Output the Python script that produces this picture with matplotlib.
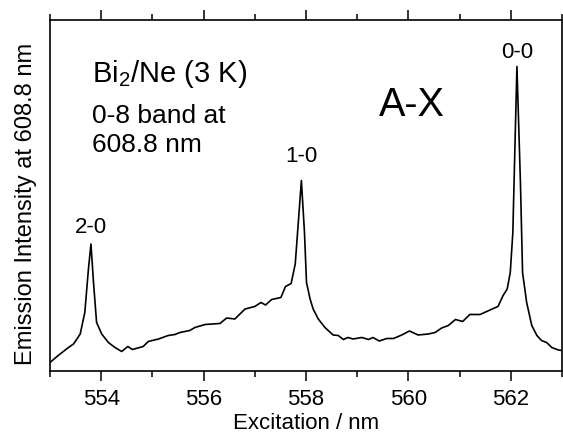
import matplotlib
matplotlib.use('Agg')
import matplotlib.pyplot as plt
from matplotlib.ticker import MultipleLocator

plt.rcParams['font.family'] = ['Liberation Sans', 'DejaVu Sans']
plt.rcParams['mathtext.fontset'] = 'custom'
plt.rcParams['mathtext.rm'] = 'Liberation Sans'
plt.rcParams['mathtext.default'] = 'regular'

# excitation spectrum (intensity in arbitrary units)
wavelength = [553.00, 553.16, 553.36, 553.46, 553.59, 553.68, 553.75, 553.80, 553.85, 553.91,
              554.01, 554.14, 554.27, 554.40, 554.52, 554.61, 554.82, 554.92, 555.12, 555.31,
              555.44, 555.54, 555.73, 555.83, 556.03, 556.32, 556.45, 556.61, 556.81, 557.00,
              557.12, 557.21, 557.33, 557.51, 557.60, 557.71, 557.79, 557.86, 557.91, 557.97,
              558.01, 558.08, 558.14, 558.24, 558.37, 558.53, 558.63, 558.73, 558.82, 558.92,
              559.09, 559.22, 559.31, 559.43, 559.58, 559.71, 559.87, 560.02, 560.19, 560.39,
              560.52, 560.65, 560.78, 560.92, 561.06, 561.20, 561.40, 561.53, 561.66, 561.75,
              561.85, 561.93, 561.99, 562.04, 562.07, 562.12, 562.19, 562.23, 562.31, 562.41,
              562.51, 562.60, 562.70, 562.80, 562.93, 563.00]
intensity = [9, 16, 24, 27.5, 37.5, 59, 102, 127.5, 89, 49,
             37.5, 29, 24, 20, 25, 22, 25, 30, 32.5, 36,
             37, 39, 41, 44, 47, 48, 53.5, 52.5, 62.5, 65,
             69, 66.5, 72, 74, 85, 88, 107.5, 156, 191, 139.5,
             89, 72.5, 62.5, 52.5, 44, 36.5, 36, 32, 34, 32.5,
             34, 32, 34, 30.5, 33, 33, 36.5, 40.5, 36.5, 37.5,
             39, 43.5, 46, 52, 50, 57, 57, 60, 63, 65,
             76, 82.5, 99, 139, 202, 305, 186, 99, 69, 46,
             36, 31, 29, 24, 21.5, 21]

# band labels: (label, wavelength window of the peak, offset above peak in points)
bands = ['2-0', '1-0', '0-0']
band_windows = [(553.5, 554.2), (557.5, 558.3), (561.8, 562.5)]
band_offsets = [8.6, 14.2, 6.8]

fig = plt.figure(figsize=(5.63, 4.35), dpi=100)
ax = fig.add_axes([0.0888, 0.1437, 0.9094, 0.808])

ax.plot(wavelength, intensity, color='black', lw=1.2)

ax.set_xlim(553, 563)
ax.set_ylim(0, 351.5)

ax.xaxis.set_major_locator(MultipleLocator(2))
ax.xaxis.set_minor_locator(MultipleLocator(1))
ax.tick_params(axis='x', which='both', direction='out', top=True, bottom=True,
               labelsize=16, pad=5, width=1.1)
ax.tick_params(axis='x', which='major', length=7)
ax.tick_params(axis='x', which='minor', length=4.5)
ax.tick_params(axis='y', which='both', left=False, right=False, labelleft=False)
for s in ax.spines.values():
    s.set_linewidth(1.2)

ax.set_xlabel('Excitation / nm', fontsize=16)
ax.set_ylabel('Emission Intensity at 608.8 nm', fontsize=17)
ax.xaxis.set_label_coords(0.5, -0.114)
ax.yaxis.set_label_coords(-0.026, 0.479)

for label, (lo, hi), off in zip(bands, band_windows, band_offsets):
    pts = [(w, v) for w, v in zip(wavelength, intensity) if lo <= w <= hi]
    pw, pv = max(pts, key=lambda p: p[1])
    ax.annotate(label, xy=(pw, pv), xytext=(0, off), textcoords='offset points',
                ha='center', va='baseline', fontsize=16)

ax.text(0.0814, 0.8256, 'Bi$_2$/Ne (3 K)', transform=ax.transAxes, fontsize=21,
        ha='left', va='baseline')
ax.text(0.0814, 0.709, '0-8 band at', transform=ax.transAxes, fontsize=19,
        ha='left', va='baseline')
ax.text(0.0814, 0.628, '608.8 nm', transform=ax.transAxes, fontsize=19,
        ha='left', va='baseline')
ax.text(0.7064, 0.7297, 'A-X', transform=ax.transAxes, fontsize=28.5,
        ha='center', va='baseline')

fig.savefig('out.png', dpi=100)
